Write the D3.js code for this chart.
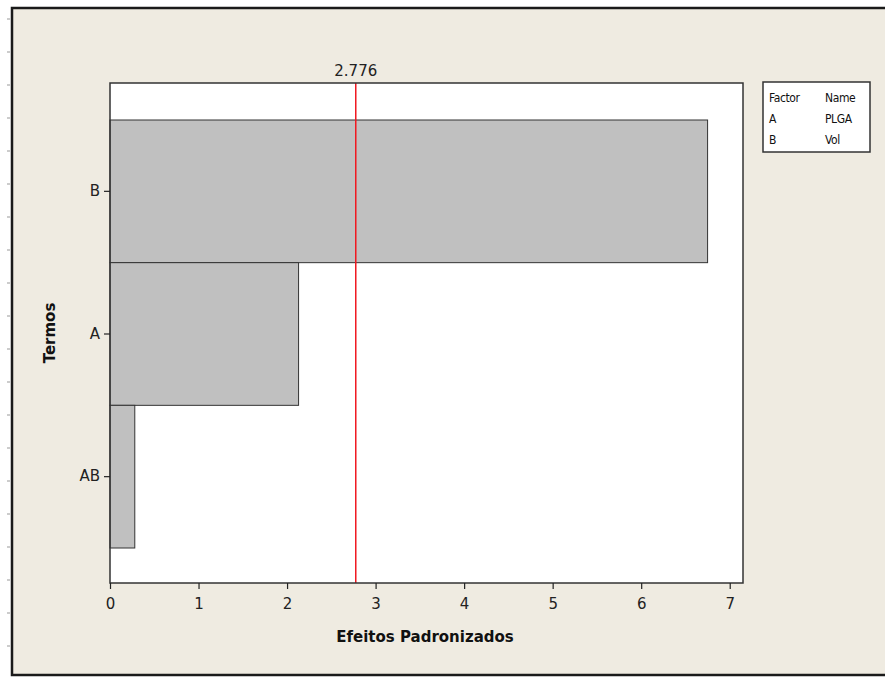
<!DOCTYPE html>
<html>
<head>
<meta charset="utf-8">
<script src="https://cdn.jsdelivr.net/npm/d3@7"></script>
<style>
  html, body { margin: 0; padding: 0; background: #fff; }
  svg { display: block; font-family: "DejaVu Sans", Verdana, sans-serif; }
</style>
</head>
<body>
<div id="chart"></div>
<script>
// Pareto of standardized effects
const terms = ["B", "A", "AB"];
const effects = [6.75, 2.13, 0.28];
const xTicks = [0, 1, 2, 3, 4, 5, 6, 7];
const refValue = 2.776;
const legendRows = [["Factor", "Name"], ["A", "PLGA"], ["B", "Vol"]];

function createChart() {
    const W = 885, H = 677;
    const margin = { top: 83, right: 142, bottom: 94, left: 110 };
    const width = W - margin.left - margin.right;
    const height = H - margin.top - margin.bottom;

    const svg = d3.select("#chart").append("svg")
        .attr("width", W)
        .attr("height", H);

    // page background + frame
    svg.append("rect").attr("width", W).attr("height", H).attr("fill", "#fff");
    svg.append("rect")
        .attr("x", 12).attr("y", 8)
        .attr("width", W + 10).attr("height", 667)
        .attr("fill", "#efebe1")
        .attr("stroke", "#1a1a1a").attr("stroke-width", 2.5);

    // ruler marks outside the frame
    const ruler = d3.range(19, H, 33);
    svg.selectAll(".ruler").data(ruler).enter().append("line")
        .attr("x1", 7).attr("x2", 10)
        .attr("y1", d => d).attr("y2", d => d)
        .attr("stroke", "#999").attr("stroke-width", 1);

    const g = svg.append("g")
        .attr("transform", `translate(${margin.left},${margin.top})`);

    const x = d3.scaleLinear().domain([0, 7.15]).range([0, width]);
    const y = d3.scaleBand().domain(terms).range([37, height - 35]).paddingInner(0);

    g.append("rect")
        .attr("width", width).attr("height", height)
        .attr("fill", "#fff");

    // bars
    g.selectAll(".bar")
        .data(terms)
        .enter().append("rect")
        .attr("class", "bar")
        .attr("x", x(0))
        .attr("y", d => y(d))
        .attr("width", (d, i) => x(effects[i]) - x(0))
        .attr("height", y.bandwidth())
        .attr("fill", "#c0c0c0")
        .attr("stroke", "#333")
        .attr("stroke-width", 1);

    // reference line
    g.append("line")
        .attr("x1", x(refValue)).attr("x2", x(refValue))
        .attr("y1", 0).attr("y2", height)
        .attr("stroke", "#f01820").attr("stroke-width", 1.5);

    g.append("text")
        .attr("x", x(refValue)).attr("y", -7)
        .attr("text-anchor", "middle")
        .style("font-size", "15px")
        .attr("fill", "#222")
        .text(refValue.toFixed(3));

    // plot frame
    g.append("rect")
        .attr("width", width).attr("height", height)
        .attr("fill", "none")
        .attr("stroke", "#333").attr("stroke-width", 1.5);

    // axes
    const xAxis = g.append("g")
        .attr("transform", `translate(0,${height})`)
        .call(d3.axisBottom(x).tickValues(xTicks).tickSize(6).tickSizeOuter(0).tickPadding(9));
    xAxis.select(".domain").remove();

    const yAxis = g.append("g")
        .call(d3.axisLeft(y).tickSize(6).tickSizeOuter(0).tickPadding(4));
    yAxis.select(".domain").remove();

    svg.selectAll(".tick line").attr("stroke", "#222").attr("stroke-width", 1.2);
    svg.selectAll(".tick text")
        .style("font-size", "15px")
        .style("font-family", "'DejaVu Sans', Verdana, sans-serif")
        .attr("fill", "#222");

    // axis titles
    svg.append("text")
        .attr("x", 425).attr("y", 642)
        .attr("text-anchor", "middle")
        .style("font-size", "15px").style("font-weight", "bold")
        .attr("fill", "#111")
        .text("Efeitos Padronizados");

    svg.append("text")
        .attr("transform", "translate(55,333) rotate(-90)")
        .attr("text-anchor", "middle")
        .style("font-size", "15px").style("font-weight", "bold")
        .attr("fill", "#111")
        .text("Termos");

    // legend
    const lg = svg.append("g").attr("transform", "translate(763,82)");
    lg.append("rect")
        .attr("width", 107).attr("height", 70)
        .attr("fill", "#fff")
        .attr("stroke", "#333").attr("stroke-width", 1.5);
    legendRows.forEach((row, i) => {
        row.forEach((cell, j) => {
            lg.append("text")
                .attr("x", j === 0 ? 6 : 62)
                .attr("y", 20 + i * 21)
                .style("font-size", "12px")
                .style("font-family", "'DejaVu Sans Condensed', 'Liberation Sans Narrow', sans-serif")
                .style("letter-spacing", "-0.4px")
                .attr("fill", "#111")
                .text(cell);
        });
    });
}

createChart();
</script>
</body>
</html>
